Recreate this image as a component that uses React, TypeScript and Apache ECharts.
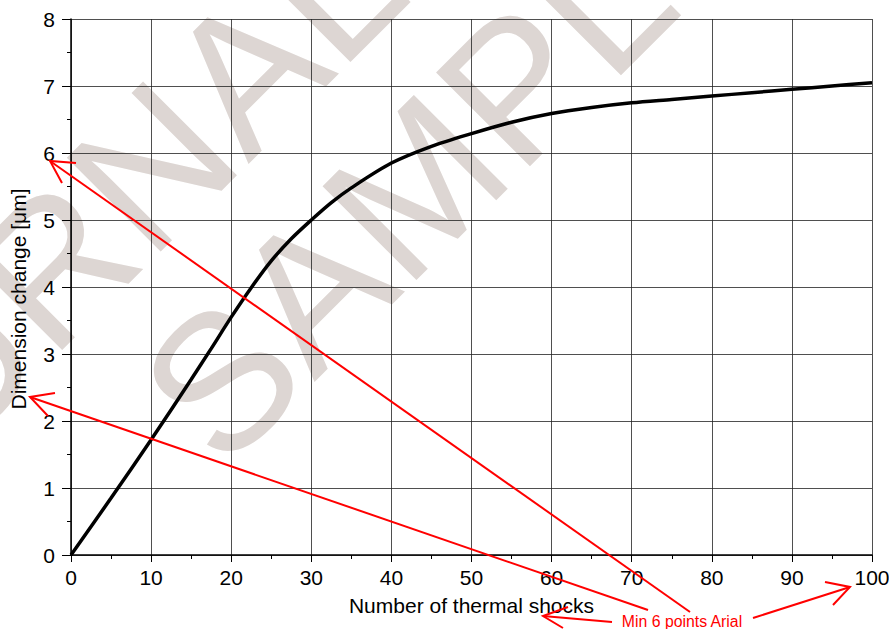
import React, { useEffect, useRef } from "react";
import * as echarts from "echarts";

const shocks = [0, 5, 10, 15, 17.5, 20, 22.5, 25, 27.5, 30, 32.5, 35, 40, 45, 50, 55, 60, 65, 70, 75, 80, 85, 90, 95, 100];
const dimensionChange = [0, 0.85, 1.72, 2.62, 3.08, 3.55, 3.99, 4.39, 4.72, 5.0, 5.26, 5.48, 5.85, 6.1, 6.29, 6.46, 6.59, 6.68, 6.75, 6.8, 6.85, 6.9, 6.95, 7.0, 7.05];
const xTitle = "Number of thermal shocks";
const yTitle = "Dimension change [\u03bcm]";
const noteText = "Min 6 points Arial";
const watermarkWords = ["JOURNAL", "SAMPLE"];

const FONT = '"Liberation Sans", Arial, sans-serif';
const RED = "#ff0000";

function arrow(tip: number[], tail: number[], h1: number[], h2: number[]) {
  return [
    { type: "line", z: 100, shape: { x1: tail[0], y1: tail[1], x2: tip[0], y2: tip[1] }, style: { stroke: RED, lineWidth: 2 } },
    { type: "polyline", z: 100, shape: { points: [h1, tip, h2] }, style: { stroke: RED, lineWidth: 2, fill: "none" } },
  ];
}

export default function App() {
  const ref = useRef<HTMLDivElement>(null);
  useEffect(() => {
    if (!ref.current) return;
    const chart = echarts.init(ref.current, undefined, { renderer: "svg" });
    const data = shocks.map((x, i) => [x, dimensionChange[i]]);
    chart.setOption({
      animation: false,
      backgroundColor: "#ffffff",
      grid: { left: 71, right: 17, top: 19, bottom: 74, containLabel: false, outerBoundsMode: "none" },
      xAxis: {
        type: "value",
        min: 0,
        max: 100,
        interval: 10,
        name: xTitle,
        nameLocation: "middle",
        nameGap: 40,
        nameTextStyle: { fontFamily: FONT, fontSize: 21, color: "#000" },
        axisLine: { show: true, lineStyle: { color: "#000", width: 1.5 } },
        axisTick: { show: true, length: 7, lineStyle: { color: "#000", width: 1 } },
        minorTick: { show: true, splitNumber: 2, length: 4, lineStyle: { color: "#000", width: 1 } },
        axisLabel: { fontFamily: FONT, fontSize: 21, color: "#000", margin: 12 },
        splitLine: { show: true, lineStyle: { color: "#222", width: 0.8 } },
      },
      yAxis: {
        type: "value",
        min: 0,
        max: 8,
        interval: 1,
        name: yTitle,
        nameLocation: "middle",
        nameGap: 42,
        nameTextStyle: { fontFamily: FONT, fontSize: 21, color: "#000", padding: [0, 24, 0, 0] },
        axisLine: { show: true, lineStyle: { color: "#000", width: 1.5 } },
        axisTick: { show: true, length: 9, lineStyle: { color: "#000", width: 1 } },
        minorTick: { show: true, splitNumber: 2, length: 4, lineStyle: { color: "#000", width: 1 } },
        axisLabel: { fontFamily: FONT, fontSize: 21, color: "#000", margin: 16 },
        splitLine: { show: true, lineStyle: { color: "#222", width: 0.8 } },
      },
      series: [
        {
          type: "line",
          data,
          smooth: 0.3,
          showSymbol: false,
          lineStyle: { color: "#000", width: 3.5 },
          z: 5,
        },
      ],
      graphic: [
        {
          type: "text",
          z: -10,
          x: -201,
          y: 655,
          rotation: Math.PI / 4,
          silent: true,
          style: { text: watermarkWords[0], font: `193px ${FONT}`, fill: "#ddd6d3", align: "left", verticalAlign: "bottom" },
        },
        {
          type: "text",
          z: -10,
          x: 244,
          y: 494,
          rotation: Math.PI / 4,
          silent: true,
          style: { text: watermarkWords[1], font: `193px ${FONT}`, fill: "#ddd6d3", align: "left", verticalAlign: "bottom" },
        },
        ...arrow([50, 161], [690, 612], [76, 163], [62, 183]),
        ...arrow([30, 397], [648, 610], [55, 393], [48, 416]),
        ...arrow([543, 616], [612, 622], [568, 607], [563, 628]),
        ...arrow([850, 587], [753, 618], [825, 582], [833, 605]),
        {
          type: "text",
          z: 100,
          x: 682,
          y: 621,
          style: { text: noteText, font: `15.8px ${FONT}`, fill: RED, align: "center", verticalAlign: "middle" },
        },
      ],
    });
    return () => chart.dispose();
  }, []);
  return <div ref={ref} style={{ position: "fixed", left: 0, top: 0, width: 889, height: 629 }} />;
}
